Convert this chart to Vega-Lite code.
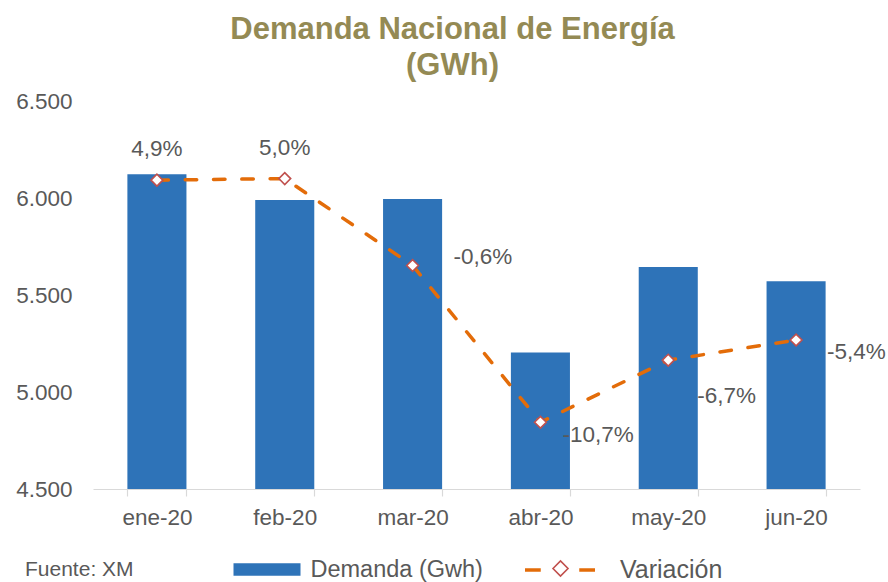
{
  "$schema": "https://vega.github.io/schema/vega-lite/v6.json",
  "autosize": {"type": "none"},
  "padding": {"left": 93, "top": 101, "right": 28, "bottom": 93},
  "width": 767,
  "height": 388,
  "background": "white",
  "title": {
    "text": ["Demanda Nacional de Energía", "(GWh)"],
    "font": "Liberation Sans",
    "fontSize": 31,
    "fontWeight": "bold",
    "color": "#948A54",
    "anchor": "middle",
    "dx": -24,
    "offset": 8,
    "lineHeight": 36
  },
  "data": {
    "values": [
      {"mes": "ene-20", "demanda": 6122, "var": 4.9, "label": "4,9%", "serie": "Demanda (Gwh)"},
      {"mes": "feb-20", "demanda": 5990, "var": 5.0, "label": "5,0%", "serie": "Demanda (Gwh)"},
      {"mes": "mar-20", "demanda": 5995, "var": -0.6, "label": "-0,6%", "serie": "Demanda (Gwh)"},
      {"mes": "abr-20", "demanda": 5204, "var": -10.7, "label": "-10,7%", "serie": "Demanda (Gwh)"},
      {"mes": "may-20", "demanda": 5644, "var": -6.7, "label": "-6,7%", "serie": "Demanda (Gwh)"},
      {"mes": "jun-20", "demanda": 5571, "var": -5.4, "label": "-5,4%", "serie": "Demanda (Gwh)"}
    ]
  },
  "encoding": {
    "x": {
      "field": "mes",
      "type": "nominal",
      "sort": null,
      "title": null,
      "scale": {"paddingInner": 0.538, "paddingOuter": 0.269},
      "axis": {
        "labelAngle": 0,
        "labelFont": "Liberation Sans",
        "labelFontSize": 22.5,
        "labelColor": "#595959",
        "labelPadding": 10,
        "domainColor": "#D9D9D9",
        "domainWidth": 1.2,
        "tickColor": "#D9D9D9",
        "tickWidth": 1.2,
        "tickSize": 7,
        "tickBand": "extent",
        "grid": false
      }
    }
  },
  "layer": [
    {
      "mark": {"type": "bar", "color": "#2E73B8"},
      "encoding": {
        "y": {
          "field": "demanda",
          "type": "quantitative",
          "title": null,
          "scale": {"domain": [4500, 6500], "zero": false, "nice": false},
          "axis": {
            "values": [4500, 5000, 5500, 6000, 6500],
            "labelExpr": "replace(format(datum.value, ',d'), ',', '.')",
            "labelFont": "Liberation Sans",
            "labelFontSize": 22.5,
            "labelColor": "#595959",
            "labelPadding": 21,
            "domain": false,
            "ticks": false,
            "grid": false
          }
        },
        "y2": {"datum": 4500},
        "color": {
          "field": "serie",
          "type": "nominal",
          "scale": {"range": ["#2E73B8"]},
          "legend": {
            "orient": "none",
            "legendX": -68,
            "legendY": 435,
            "padding": 0,
            "title": "Fuente: XM",
            "titleOrient": "left",
            "titleAnchor": "middle",
            "titleBaseline": "top",
            "titleFont": "Liberation Sans",
            "titleFontSize": 21,
            "titleFontWeight": "normal",
            "titleColor": "#595959",
            "titlePadding": 99.5,
            "titleLimit": 300,
            "symbolType": "M-1,-0.185H1V0.185H-1Z",
            "symbolSize": 4489,
            "symbolStrokeWidth": 0,
            "labelFont": "Liberation Sans",
            "labelFontSize": 23.5,
            "labelColor": "#595959",
            "labelOffset": 10,
            "labelLimit": 300
          }
        }
      }
    },
    {
      "layer": [
        {
          "mark": {"type": "line", "strokeWidth": 3.5, "strokeCap": "round", "strokeDash": [11.5, 16.8]},
          "encoding": {
            "y": {"field": "var", "type": "quantitative", "scale": {"domain": [-15, 10], "nice": false}, "axis": null},
            "stroke": {
              "datum": "Variación",
              "scale": {"domain": ["Variación"], "range": ["#E36C09"]},
              "legend": {
                "orient": "none",
                "legendX": 430,
                "legendY": 432,
                "padding": 0,
                "title": null,
                "symbolType": "M-1,0H-0.55M0.55,0H1",
                "symbolSize": 4900,
                "symbolStrokeWidth": 3.5,
                "symbolStrokeColor": "#E36C09",
                "labelFont": "Liberation Sans",
                "labelFontSize": 25,
                "labelColor": "#595959",
                "labelOffset": 23,
                "labelLimit": 300
              }
            }
          }
        },
        {
          "mark": {"type": "point", "shape": "diamond", "filled": true, "stroke": "#C0504D", "strokeWidth": 1.6, "size": 140, "opacity": 1},
          "encoding": {
            "y": {"field": "var", "type": "quantitative"},
            "fill": {
              "datum": "marcador",
              "scale": {"domain": ["marcador"], "range": ["#FFFFFF"]},
              "legend": {
                "orient": "none",
                "legendX": 459,
                "legendY": 459,
                "padding": 0,
                "title": null,
                "labelExpr": "''",
                "symbolType": "diamond",
                "symbolSize": 225,
                "symbolStrokeColor": "#C0504D",
                "symbolStrokeWidth": 1.6
              }
            }
          }
        },
        {
          "transform": [{"filter": {"field": "mes", "oneOf": ["ene-20", "feb-20"]}}],
          "mark": {"type": "text", "font": "Liberation Sans", "fontSize": 22.5, "color": "#595959", "align": "center", "baseline": "middle", "dy": -31},
          "encoding": {"y": {"field": "var", "type": "quantitative"}, "text": {"field": "label"}}
        },
        {
          "transform": [{"filter": {"field": "mes", "equal": "mar-20"}}],
          "mark": {"type": "text", "font": "Liberation Sans", "fontSize": 22.5, "color": "#595959", "align": "left", "baseline": "middle", "dx": 41, "dy": -8.5},
          "encoding": {"y": {"field": "var", "type": "quantitative"}, "text": {"field": "label"}}
        },
        {
          "transform": [{"filter": {"field": "mes", "equal": "abr-20"}}],
          "mark": {"type": "text", "font": "Liberation Sans", "fontSize": 22.5, "color": "#595959", "align": "left", "baseline": "middle", "dx": 22, "dy": 13},
          "encoding": {"y": {"field": "var", "type": "quantitative"}, "text": {"field": "label"}}
        },
        {
          "transform": [{"filter": {"field": "mes", "equal": "may-20"}}],
          "mark": {"type": "text", "font": "Liberation Sans", "fontSize": 22.5, "color": "#595959", "align": "left", "baseline": "middle", "dx": 29, "dy": 35.5},
          "encoding": {"y": {"field": "var", "type": "quantitative"}, "text": {"field": "label"}}
        },
        {
          "transform": [{"filter": {"field": "mes", "equal": "jun-20"}}],
          "mark": {"type": "text", "font": "Liberation Sans", "fontSize": 22.5, "color": "#595959", "align": "left", "baseline": "middle", "dx": 31, "dy": 12},
          "encoding": {"y": {"field": "var", "type": "quantitative"}, "text": {"field": "label"}}
        }
      ]
    }
  ],
  "resolve": {"scale": {"y": "independent"}},
  "config": {
    "view": {"stroke": null},
    "font": "Liberation Sans"
  }
}
